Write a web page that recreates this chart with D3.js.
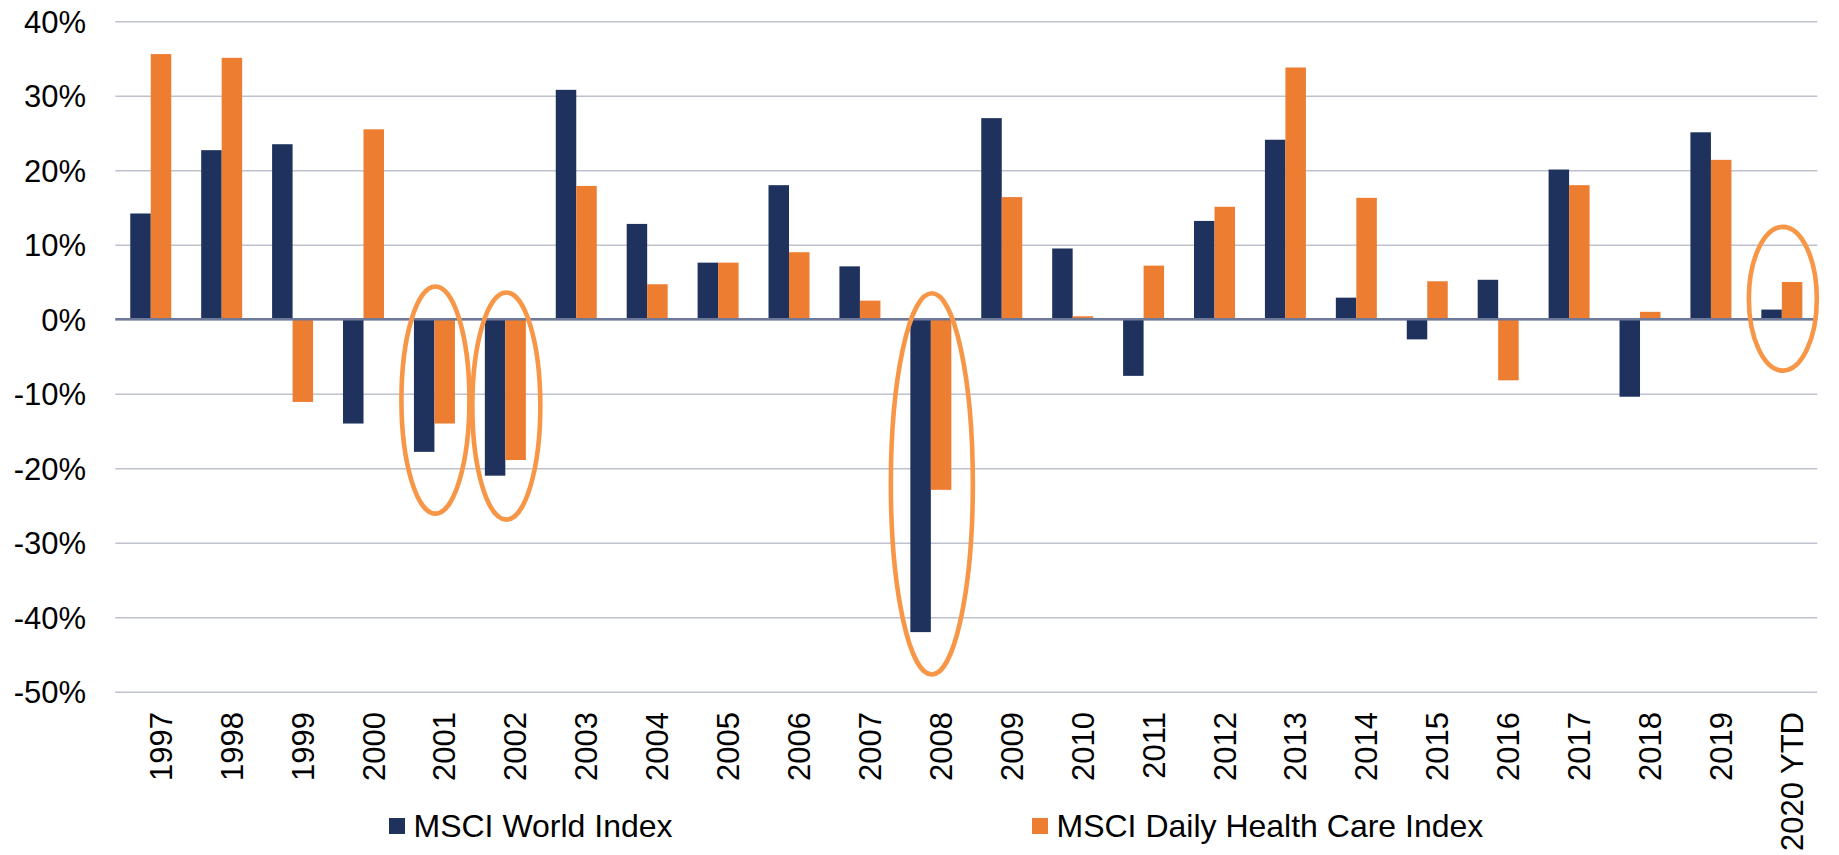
<!DOCTYPE html>
<html>
<head>
<meta charset="utf-8">
<script src="https://cdn.jsdelivr.net/npm/d3@7"></script>
<style>
  html, body { margin: 0; padding: 0; background: #ffffff; }
  svg { display: block; }
  text { font-family: "Liberation Sans", Arial, sans-serif; fill: #000; }
</style>
</head>
<body>
<svg id="chart" width="1839" height="855"></svg>
<script>
// ---- data ----
const categories = ["1997","1998","1999","2000","2001","2002","2003","2004","2005","2006","2007","2008",
                    "2009","2010","2011","2012","2013","2014","2015","2016","2017","2018","2019","2020 YTD"];
const seriesNames = ["MSCI World Index", "MSCI Daily Health Care Index"];
const worldValues  = [14.2, 22.7, 23.5, -14.0, -17.8, -21.0, 30.8, 12.8, 7.6, 18.0, 7.1, -42.0,
                      27.0, 9.5, -7.6, 13.2, 24.1, 2.9, -2.7, 5.3, 20.1, -10.4, 25.1, 1.3];
const healthValues = [35.6, 35.1, -11.1, 25.5, -14.0, -18.9, 17.9, 4.7, 7.6, 9.0, 2.5, -22.9,
                      16.4, 0.4, 7.2, 15.1, 33.8, 16.3, 5.1, -8.2, 18.0, 1.0, 21.4, 5.0];
const yTicks = [40, 30, 20, 10, 0, -10, -20, -30, -40, -50];
// highlighted years (ellipse annotations), vertical extent in % units
const highlightYears  = ["2001", "2002", "2008", "2020 YTD"];
const highlightTop    = [4.4, 3.6, 3.5, 12.4];
const highlightBottom = [-26.1, -26.9, -47.7, -6.9];

// ---- layout ----
const colors = ["#1F325E", "#ED7D31"];
const plotLeft = 115.3, plotRight = 1817.3, plotTop = 21.3, plotBottom = 691.7;

const svg = d3.select("#chart");

const y = d3.scaleLinear().domain([-50, 40]).range([plotBottom, plotTop]);
const x0 = d3.scaleBand().domain(categories).range([plotLeft, plotRight])
  .paddingInner(0.422).paddingOuter(0.211);
const x1 = d3.scaleBand().domain(seriesNames).range([0, x0.bandwidth()]).padding(0);
const color = d3.scaleOrdinal().domain(seriesNames).range(colors);

// gridlines
const yAxisGrid = d3.axisLeft(y).tickValues(yTicks).tickSize(-(plotRight - plotLeft)).tickFormat("");
const grid = svg.append("g").attr("transform", `translate(${plotLeft},0)`).call(yAxisGrid);
grid.select(".domain").remove();
grid.selectAll(".tick line").attr("stroke", "#BEC2CE").attr("stroke-width", 1.5);

// y labels
const yAxis = d3.axisLeft(y).tickValues(yTicks).tickSize(0).tickPadding(0).tickFormat(d => d + "%");
const ya = svg.append("g").attr("transform", `translate(86,0)`).call(yAxis);
ya.select(".domain").remove();
ya.selectAll(".tick text")
  .attr("font-family", '"Liberation Sans", Arial, sans-serif')
  .attr("font-size", 31).attr("fill", "#000").attr("dy", "0.36em");

// bars
const rows = categories.map((c, i) => ({ cat: c, vals: [worldValues[i], healthValues[i]] }));
const groups = svg.append("g").selectAll("g").data(rows).join("g")
  .attr("transform", d => `translate(${x0(d.cat)},0)`);
groups.selectAll("rect")
  .data(d => d.vals.map((v, j) => ({ key: seriesNames[j], v })))
  .join("rect")
  .attr("x", d => x1(d.key))
  .attr("width", x1.bandwidth())
  .attr("y", d => y(Math.max(0, d.v)))
  .attr("height", d => Math.abs(y(d.v) - y(0)))
  .attr("fill", d => color(d.key));

// zero axis line
svg.append("line")
  .attr("x1", plotLeft).attr("x2", plotRight)
  .attr("y1", y(0)).attr("y2", y(0))
  .attr("stroke", "#6E7899").attr("stroke-width", 2.5);

// x labels (rotated)
const xAxis = d3.axisBottom(x0).tickSize(0).tickPadding(0);
const xa = svg.append("g").attr("transform", `translate(0,712)`).call(xAxis);
xa.select(".domain").remove();
xa.selectAll(".tick text")
  .attr("font-family", '"Liberation Sans", Arial, sans-serif')
  .attr("font-size", 31).attr("fill", "#000")
  .attr("text-anchor", "end")
  .attr("dy", null).attr("y", 0)
  .attr("transform", "translate(21,0) rotate(-90)");

// highlight ellipses
svg.append("g").selectAll("ellipse")
  .data(highlightYears.map((c, i) => ({ cat: c, top: highlightTop[i], bottom: highlightBottom[i] })))
  .join("ellipse")
  .attr("cx", d => x0(d.cat) + x0.bandwidth() / 2 + 1)
  .attr("cy", d => (y(d.top) + y(d.bottom)) / 2)
  .attr("rx", d => d.cat === "2008" ? 41 : 34)
  .attr("ry", d => (y(d.bottom) - y(d.top)) / 2)
  .attr("fill", "none")
  .attr("stroke", "#F79646")
  .attr("stroke-width", 4.6);

// legend
const legendX = [389, 1032];
const legend = svg.append("g").selectAll("g").data(seriesNames).join("g")
  .attr("transform", (d, i) => `translate(${legendX[i]},818)`);
legend.append("rect").attr("width", 16).attr("height", 16).attr("fill", d => color(d));
legend.append("text").attr("x", 24.5).attr("y", 18.8)
  .attr("font-size", 32).text(d => d);
</script>
</body>
</html>
